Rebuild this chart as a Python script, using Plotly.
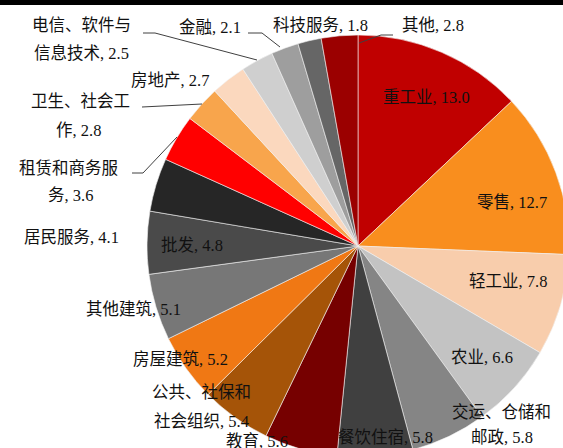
import plotly.graph_objects as go

# slices, clockwise from 12 o'clock
CATEGORIES = ['重工业', '零售', '轻工业', '农业', '交运、仓储和邮政', '餐饮住宿', '教育',
              '公共、社保和社会组织', '房屋建筑', '其他建筑', '批发', '居民服务',
              '租赁和商务服务', '卫生、社会工作', '房地产', '电信、软件与信息技术',
              '金融', '科技服务', '其他']
VALUES = [13.0, 12.7, 7.8, 6.6, 5.8, 5.8, 5.6, 5.4, 5.2, 5.1, 4.8, 4.1,
          3.6, 2.8, 2.7, 2.5, 2.1, 1.8, 2.8]

COLORS = ['#C00000', '#F98E1E', '#F8CDAC', '#C3C3C3', '#858585', '#404040', '#760000',
          '#A55408', '#F07814', '#777777', '#4A4A4A', '#262626', '#FF0000', '#F8A54C',
          '#FBD8BE', '#CFCFCF', '#9E9E9E', '#666666', '#9B0000']

W, H = 580, 470
CX, CY, R = 358, 246, 211

# label line centres in pixels (one entry per text line)
LABEL_XY = [
    [(426, 98)], [(512, 202)], [(508, 281)], [(482, 357)],
    [(501, 412), (502, 437)], [(385, 437)], [(257, 441)],
    [(202, 392), (202, 421)], [(180, 359)], [(133, 309)], [(192, 245)],
    [(71, 237)], [(68, 168), (70, 195)], [(80, 102), (78, 130)],
    [(170, 80)], [(81, 26), (81, 53)], [(210, 27)], [(320, 26)], [(433, 26)],
]

LEADERS = [
    [(143, 33), (155, 33), (257, 60)],
    [(248, 33), (262, 33), (280, 47)],
    [(142, 107), (202, 104)],
    [(132, 173), (143, 173), (177, 137)],
    [(393, 35), (381, 35), (359, 43)],
]

FONT = 'Liberation Serif, Noto Sans CJK SC, serif'


def px(x, y):
    return x / W, 1 - y / H


fig = go.Figure(go.Pie(
    labels=CATEGORIES,
    values=VALUES,
    sort=False,
    direction='clockwise',
    rotation=0,
    textinfo='none',
    hoverinfo='label+value',
    marker=dict(colors=COLORS, line=dict(color='#F2F2F2', width=0.6)),
    domain=dict(x=[(CX - R) / W, (CX + R) / W], y=[1 - (CY + R) / H, 1 - (CY - R) / H]),
    showlegend=False,
))

annotations = []
for name, val, spots in zip(CATEGORIES, VALUES, LABEL_XY):
    text = f'{name}, {val:.1f}'
    lines = [text] if len(spots) == 1 else [text[:6], text[6:]]
    for line, (x, y) in zip(lines, spots):
        ax, ay = px(x, y)
        annotations.append(dict(
            x=ax, y=ay, xref='paper', yref='paper', text=line, showarrow=False,
            xanchor='center', yanchor='middle',
            font=dict(family=FONT, size=16.5, color='#111111'),
        ))

# thick rule across the top, drawn as an empty black box
annotations.append(dict(
    x=0, y=1, xref='paper', yref='paper', xanchor='left', yanchor='top',
    text='', showarrow=False, width=W, height=5, bgcolor='black', borderpad=0,
    borderwidth=0, font=dict(size=1),
))

shapes = [dict(type='rect', xref='paper', yref='paper', x0=0, x1=1,
               y0=1 - 5 / H, y1=1, fillcolor='black', line=dict(width=0))]
for pts in LEADERS:
    for (x0, y0), (x1, y1) in zip(pts[:-1], pts[1:]):
        a0, b0 = px(x0, y0)
        a1, b1 = px(x1, y1)
        shapes.append(dict(type='line', xref='paper', yref='paper', x0=a0, y0=b0, x1=a1, y1=b1,
                           line=dict(color='#404040', width=1)))

fig.update_layout(
    width=W, height=H,
    margin=dict(l=0, r=0, t=0, b=0, pad=0),
    showlegend=False,
    annotations=annotations,
    shapes=shapes,
)

fig.write_html('out.html', config={'displayModeBar': False},
               post_script="document.body.style.margin='0px';")
